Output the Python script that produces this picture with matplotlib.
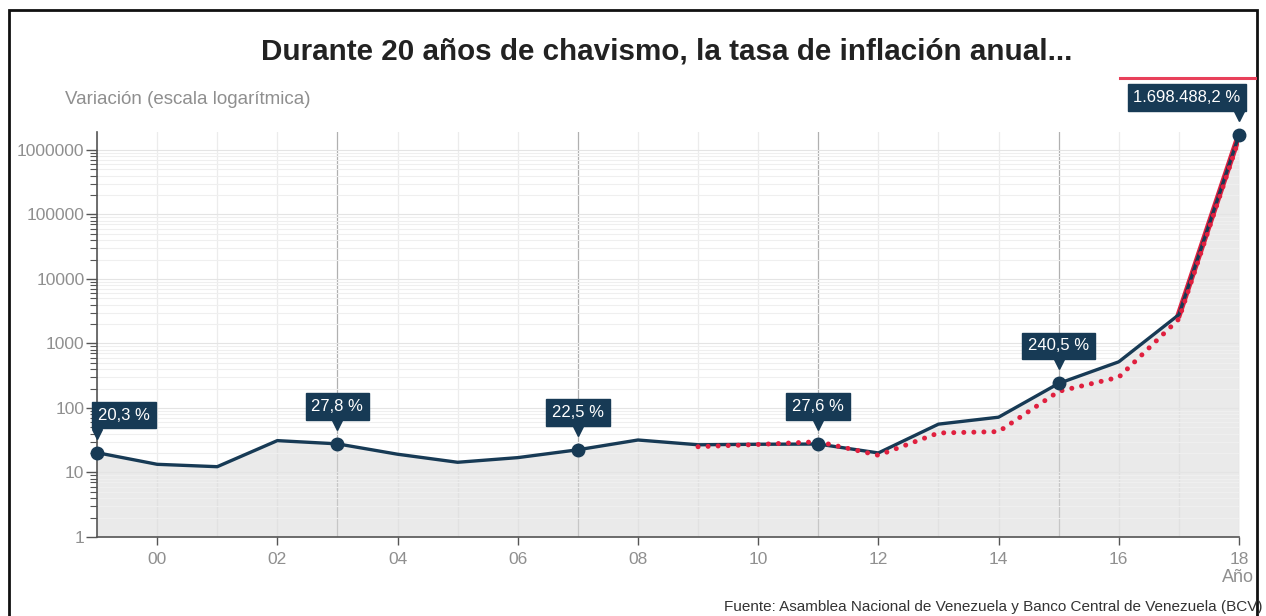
"""Venezuela annual inflation 1999-2018, log scale."""

import matplotlib

matplotlib.use("Agg")
from matplotlib import pyplot as plt
from matplotlib import transforms
from matplotlib.lines import Line2D
from matplotlib.patches import Rectangle
from matplotlib.ticker import FixedLocator, LogLocator, NullFormatter

YEARS = list(range(1999, 2019))
INFLATION = [20.3, 13.4, 12.3, 31.2, 27.8, 19.2, 14.4, 17.0, 22.5, 31.9,
             26.9, 27.4, 27.6, 20.1, 56.2, 72.0, 240.5, 520.0, 2800.0, 1698488.2]
BCV_YEARS = list(range(2009, 2019))
BCV = [25.1, 27.2, 30.0, 18.5, 41.0, 43.0, 180.9, 300.0, 2400.0, 1500000.0]
LABEL_YEARS = [1999, 2003, 2007, 2011, 2015, 2018]
LABEL_TEXTS = ["20,3 %", "27,8 %", "22,5 %", "27,6 %", "240,5 %", "1.698.488,2 %"]
LABEL_SHIFT = [27, 0, 0, 0, 0, -52]  # px, keep boxes inside the plot

NAVY = "#173a55"
RED = "#e0203f"
GREY_TXT = "#8f8f8f"

plt.rcParams["font.family"] = ["Liberation Sans", "DejaVu Sans"]

fig = plt.figure(figsize=(12.66, 6.16), dpi=100)
ax = fig.add_axes([97 / 1266, 79 / 616, (1239 - 97) / 1266, (537 - 132) / 616])

ax.set_yscale("log")
ax.set_xlim(1999, 2018)
ax.set_ylim(1, 1.9e6)

# grid
ax.yaxis.set_minor_locator(LogLocator(base=10, subs=range(2, 10), numticks=100))
ax.yaxis.set_minor_formatter(NullFormatter())
ax.set_yticks([1, 10, 100, 1000, 10000, 100000, 1000000])
ax.set_yticklabels(["1", "10", "100", "1000", "10000", "100000", "1000000"])
ax.grid(which="major", axis="y", color="#e4e4e4", linewidth=0.8)
ax.grid(which="minor", axis="y", color="#efefef", linewidth=0.8)
for yr in YEARS:
    dark = yr in LABEL_YEARS[1:-1]
    ax.axvline(yr, color="#b0b0b0" if dark else "#ececec", linewidth=0.9, zorder=0.5)

ax.xaxis.set_major_locator(FixedLocator(list(range(2000, 2019, 2))))
ax.set_xticklabels([f"{y % 100:02d}" for y in range(2000, 2019, 2)])
ax.tick_params(axis="x", colors="#555555", labelcolor=GREY_TXT, labelsize=12.5,
               length=6, width=1, pad=5)
ax.tick_params(axis="y", which="major", colors="#555555", labelcolor=GREY_TXT,
               labelsize=12.5, length=8, width=1, pad=1)
ax.tick_params(axis="y", which="minor", colors="#555555", length=5, width=0.8)

for side in ("top", "right"):
    ax.spines[side].set_visible(False)
ax.spines["left"].set_color("#555555")
ax.spines["bottom"].set_color("#555555")
ax.spines["left"].set_linewidth(1.2)
ax.spines["bottom"].set_linewidth(1.2)

# series
ax.fill_between(YEARS, INFLATION, 1, color="#d9d9d9", alpha=0.55, zorder=1, linewidth=0)
ax.plot(YEARS[-2:], INFLATION[-2:], color=RED, linewidth=4.5, zorder=2)
ax.plot(YEARS, INFLATION, color=NAVY, linewidth=2.4, zorder=3)
ax.plot(BCV_YEARS, BCV, color=RED, linewidth=3.6, linestyle=(0, (0.01, 2.0)),
        dash_capstyle="round", zorder=4)

for yr, txt, shift in zip(LABEL_YEARS, LABEL_TEXTS, LABEL_SHIFT):
    val = INFLATION[YEARS.index(yr)]
    ax.plot(yr, val, "o", color=NAVY, markersize=9, zorder=5, clip_on=False)
    tip = transforms.offset_copy(ax.transData, fig=fig, x=0, y=19, units="dots")
    ax.plot(yr, val, "v", color=NAVY, markersize=7, transform=tip, zorder=6, clip_on=False)
    ax.annotate(txt, xy=(yr, val), xytext=(shift * 0.72, 27), textcoords="offset points",
                ha="center", va="center", color="white", fontsize=12, zorder=7,
                bbox=dict(boxstyle="square,pad=0.35", fc=NAVY, ec=NAVY),
                annotation_clip=False)

# texts
fig.text(667 / 1266, 1 - 52 / 616, "Durante 20 años de chavismo, la tasa de inflación anual...",
         ha="center", va="center", fontsize=21.3, weight="bold", color="#222222")
fig.text(65 / 1266, 1 - 100 / 616, "Variación (escala logarítmica)", ha="left", va="center",
         fontsize=13.5, color=GREY_TXT)
fig.text(1254 / 1266, 1 - 578 / 616, "Año", ha="right", va="center", fontsize=13, color=GREY_TXT)
fig.text(1262 / 1266, 1 - 607 / 616,
         "Fuente: Asamblea Nacional de Venezuela y Banco Central de Venezuela (BCV)",
         ha="right", va="center", fontsize=11, color="#333333")

# frame and red header line
fig.add_artist(Rectangle((9 / 1266, -0.05), (1257 - 9) / 1266, 1.05 - 10 / 616,
                         transform=fig.transFigure, fill=False, ec="#111111", lw=2))
fig.add_artist(Line2D([1120 / 1266, 1255 / 1266], [1 - 78 / 616] * 2,
                      transform=fig.transFigure, color="#e8405a", lw=2.2))

fig.savefig("out.png", dpi=100)
plt.close(fig)
